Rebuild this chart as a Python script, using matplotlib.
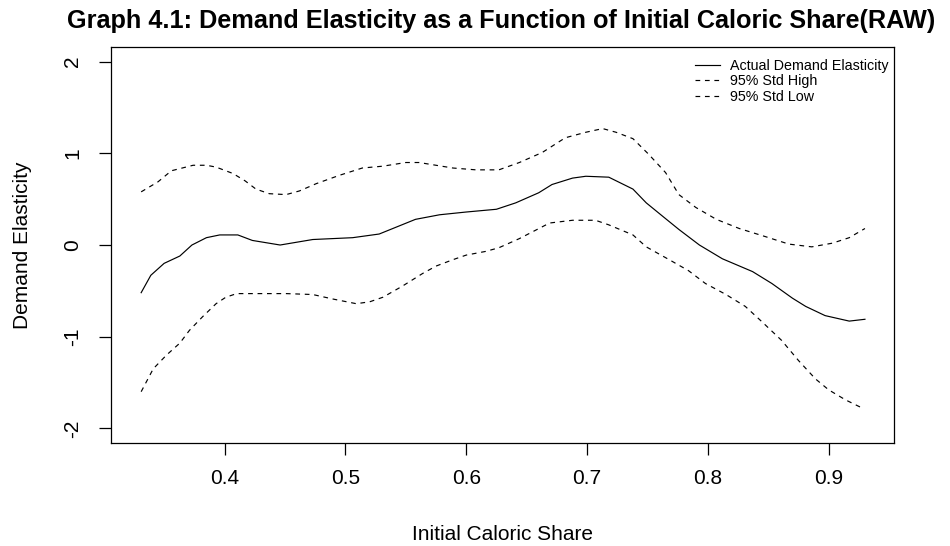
import matplotlib
matplotlib.use("Agg")
import matplotlib.pyplot as plt

plt.rcParams['font.family'] = ['Liberation Sans', 'DejaVu Sans']

# Kurven
x_mid = [0.331, 0.339, 0.350, 0.363, 0.373, 0.385, 0.396, 0.411, 0.423, 0.446,
         0.473, 0.506, 0.528, 0.558, 0.578, 0.600, 0.625, 0.641, 0.660, 0.671,
         0.688, 0.699, 0.718, 0.738, 0.749, 0.762, 0.776, 0.793, 0.812, 0.837,
         0.853, 0.870, 0.881, 0.897, 0.917, 0.930]
y_mid = [-0.52, -0.33, -0.20, -0.12, 0.00, 0.08, 0.11, 0.11, 0.05, -0.00,
         0.06, 0.08, 0.12, 0.28, 0.33, 0.36, 0.39, 0.46, 0.57, 0.66,
         0.73, 0.75, 0.74, 0.61, 0.46, 0.32, 0.17, 0.00, -0.15, -0.29,
         -0.42, -0.58, -0.67, -0.77, -0.83, -0.81]

x_high = [0.331, 0.345, 0.356, 0.374, 0.385, 0.393, 0.407, 0.417, 0.426, 0.437,
          0.451, 0.462, 0.476, 0.495, 0.514, 0.531, 0.550, 0.561, 0.575, 0.589,
          0.608, 0.627, 0.644, 0.663, 0.682, 0.699, 0.713, 0.724, 0.738, 0.751,
          0.765, 0.776, 0.790, 0.807, 0.826, 0.848, 0.867, 0.886, 0.903, 0.917,
          0.930]
y_high = [0.58, 0.69, 0.81, 0.87, 0.87, 0.85, 0.78, 0.70, 0.61, 0.56,
          0.55, 0.59, 0.67, 0.76, 0.84, 0.86, 0.90, 0.90, 0.87, 0.84,
          0.82, 0.82, 0.90, 1.01, 1.17, 1.23, 1.27, 1.23, 1.16, 0.99,
          0.79, 0.55, 0.41, 0.28, 0.18, 0.09, 0.01, -0.02, 0.02, 0.08,
          0.18]

x_low = [0.331, 0.341, 0.352, 0.363, 0.371, 0.382, 0.393, 0.401, 0.410, 0.426,
         0.451, 0.473, 0.490, 0.509, 0.520, 0.531, 0.547, 0.564, 0.575, 0.589,
         0.600, 0.616, 0.627, 0.644, 0.669, 0.688, 0.707, 0.718, 0.738, 0.749,
         0.768, 0.784, 0.798, 0.815, 0.831, 0.845, 0.861, 0.875, 0.889, 0.900,
         0.914, 0.928]
y_low = [-1.60, -1.35, -1.20, -1.07, -0.93, -0.78, -0.64, -0.57, -0.53, -0.53,
         -0.53, -0.54, -0.59, -0.64, -0.62, -0.57, -0.45, -0.31, -0.23, -0.16,
         -0.11, -0.07, -0.03, 0.07, 0.24, 0.27, 0.27, 0.22, 0.11, -0.02,
         -0.16, -0.28, -0.42, -0.54, -0.67, -0.84, -1.04, -1.26, -1.46, -1.58,
         -1.69, -1.78]

xticks = [0.4, 0.5, 0.6, 0.7, 0.8, 0.9]
yticks = [-2, -1, 0, 1, 2]

fig = plt.figure(figsize=(9.5, 5.46), dpi=100)
ax = fig.add_axes([0.1168, 0.1886, 0.8242, 0.7253])

dash = (0, (4, 4))
ax.plot(x_mid, y_mid, color='black', linewidth=0.85, label='Actual Demand Elasticity')
ax.plot(x_high, y_high, color='black', linewidth=0.85, linestyle=dash, label='95% Std High')
ax.plot(x_low, y_low, color='black', linewidth=0.85, linestyle=dash, label='95% Std Low')

ax.set_xlim(0.306, 0.954)
ax.set_ylim(-2.16, 2.16)
ax.set_xticks(xticks)
ax.set_xticklabels([str(v) for v in xticks])
ax.set_yticks(yticks)
ax.set_yticklabels([str(v) for v in yticks], rotation=90, va='center')
ax.tick_params(axis='both', direction='out', length=8.6, width=0.9, labelsize=15)
ax.tick_params(axis='x', pad=10)
ax.tick_params(axis='y', pad=12)

for s in ax.spines.values():
    s.set_linewidth(0.9)

# Titel und Achsenbeschriftungen
ax.text(0.4987, 1.048, 'Graph 4.1: Demand Elasticity as a Function of Initial Caloric Share(RAW)',
        transform=ax.transAxes, ha='center', va='baseline', fontsize=18.2, fontweight='bold')
ax.set_xlabel('Initial Caloric Share', fontsize=15)
ax.xaxis.set_label_coords(0.5, -0.232)
ax.xaxis.label.set_va('center')
ax.set_ylabel('Demand Elasticity', fontsize=15)
ax.yaxis.set_label_coords(-0.1124, 0.5)
ax.yaxis.label.set_va('center')

ax.legend(loc='upper right', bbox_to_anchor=(0.9936, 0.970), frameon=False, fontsize=10.3,
          handlelength=1.75, handletextpad=0.7, labelspacing=0.1,
          borderpad=0, borderaxespad=0)

fig.savefig('out.png', dpi=100)
